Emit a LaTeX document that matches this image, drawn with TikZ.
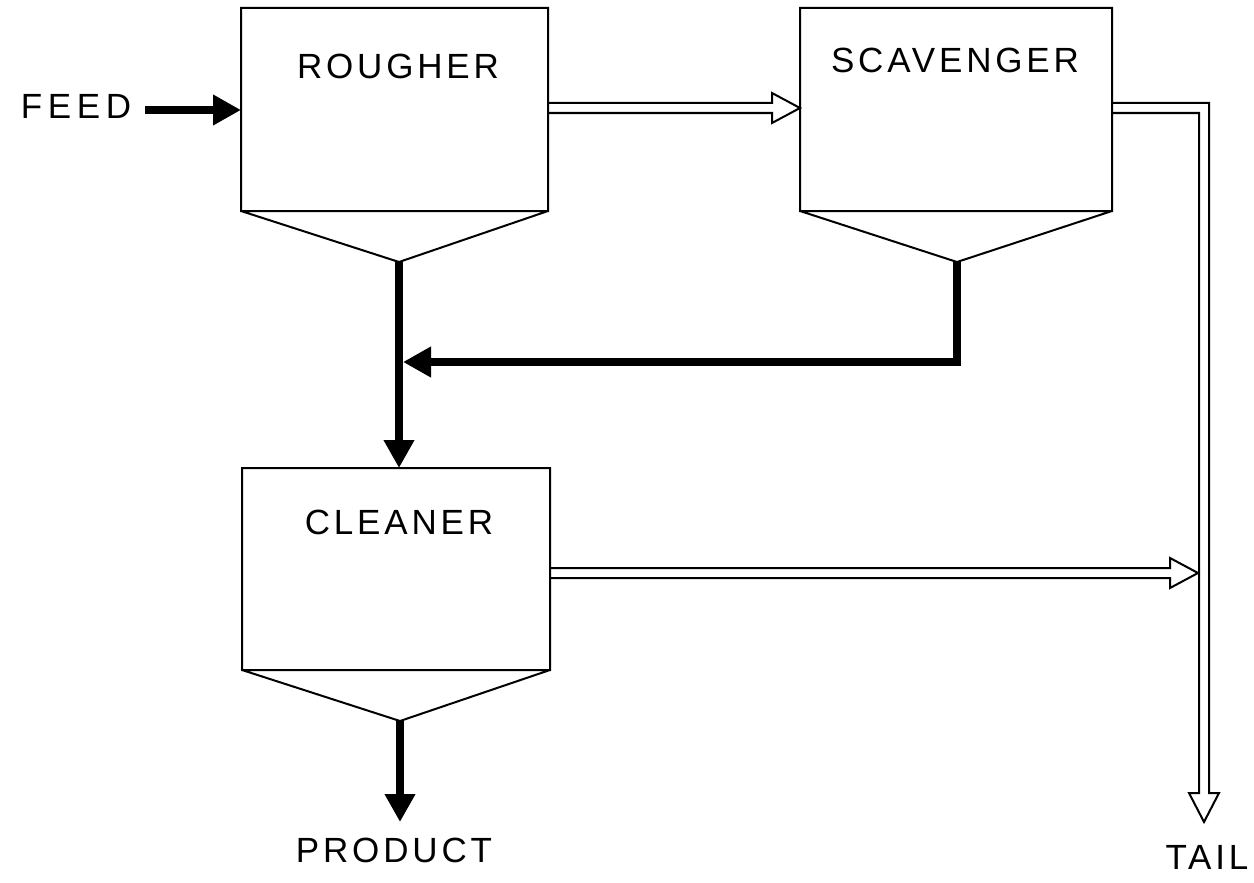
\documentclass[tikz,border=0pt]{standalone}
\usepackage{fontspec}
\setmainfont{Liberation Sans}[LetterSpace=11]
\usetikzlibrary{arrows.meta,calc}

% horizontal hollow (outlined) double-line arrow from #1 to the tip #2
\newcommand\hollowright[2]{%
  \draw[hollow] let \p1=(#1), \p2=(#2) in
    (\x1,\y2+5pt) -- (\x2-28pt,\y2+5pt) -- (\x2-28pt,\y2+15pt) -- (\x2,\y2)
    -- (\x2-28pt,\y2-15pt) -- (\x2-28pt,\y2-5pt) -- (\x1,\y2-5pt);}

\begin{document}
\begin{tikzpicture}[x=1pt,y=-1pt,
  cell/.style={line width=2pt, line join=miter},
  flow/.style={line width=8.5pt, line join=miter,
    -{Triangle[length=28pt,width=29pt]}},
  hollow/.style={line width=2pt, line join=miter},
  lbl/.style={font=\fontsize{35}{40}\selectfont, inner sep=0pt, anchor=center}]

\useasboundingbox (0,0) rectangle (1254,883);

% flotation cells: tank with a conical bottom
\draw[cell] (241,8) rectangle (548,211) (241,211) -- (399,262) -- (548,211);
\draw[cell] (800,8) rectangle (1112,211) (800,211) -- (957,262) -- (1112,211);
\draw[cell] (242,468) rectangle (550,670) (242,670) -- (400,721) -- (550,670);

% connection points
\coordinate (ro-in)   at (241,110);
\coordinate (ro-out)  at (548,108);
\coordinate (ro-bot)  at (399,262);
\coordinate (sc-in)   at (800,108);
\coordinate (sc-out)  at (1112,108);
\coordinate (sc-bot)  at (957,262);
\coordinate (sc-turn) at (957,362);
\coordinate (merge)   at (403,362);
\coordinate (cl-in)   at (399,468);
\coordinate (cl-out)  at (550,573);
\coordinate (cl-bot)  at (400,721);
\coordinate (tl-side) at (1198,573);
\coordinate (tl-tip)  at (1204,822);
\coordinate (pr-tip)  at (400,822);
\coordinate (fd-tail) at (145,110);

% labels
\node[lbl] (feed) at (76,106) {\addfontfeature{LetterSpace=16}FEED};
\node[lbl] (rougher) at (398,66) {ROUGHER};
\node[lbl] (scavenger) at (955,60) {SCAVENGER};
\node[lbl] (cleaner) at (399,522) {CLEANER};
\node[lbl] (product) at (394,850) {PRODUCT};
\node[lbl] (tail) at (1207,857) {TAIL};

% concentrate streams (solid arrows)
\draw[flow] (fd-tail) -- (ro-in);
\draw[flow] (ro-bot) -- (cl-in);
\draw[flow] (sc-bot) -- (sc-turn) -- (merge);
\draw[flow] (cl-bot) -- (pr-tip);

% tailings streams (hollow arrows)
\hollowright{ro-out}{sc-in}
\hollowright{cl-out}{tl-side}
\draw[hollow] let \p1=(sc-out), \p2=(tl-tip) in
  (\x1,\y1+5pt) -- (\x2+5pt,\y1+5pt) -- (\x2+5pt,\y2+29pt) -- (\x2+15pt,\y2+29pt)
  -- (\x2,\y2) -- (\x2-15pt,\y2+29pt) -- (\x2-5pt,\y2+29pt) -- (\x2-5pt,\y1-5pt)
  -- (\x1,\y1-5pt);
\end{tikzpicture}
\end{document}
